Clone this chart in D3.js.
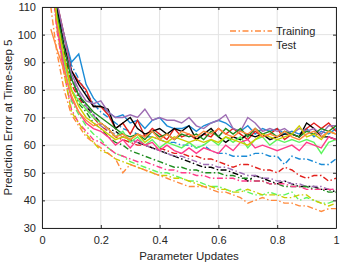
<!DOCTYPE html>
<html>
<head>
<meta charset="utf-8">
<script src="https://cdn.jsdelivr.net/npm/d3@7"></script>
<style>
  body { margin: 0; background: #fff; }
  text { font-family: "Liberation Sans", Arial, sans-serif; fill: #262626; }
</style>
</head>
<body>
<script>
// parameter update positions (shared by every series)
var xs = [0.03,0.05,0.075,0.1,0.125,0.15,0.175,0.2,0.225,0.25,0.275,0.3,0.325,0.35,0.375,0.4,0.425,0.45,0.475,0.5,
          0.525,0.55,0.575,0.6,0.625,0.65,0.675,0.7,0.725,0.75,0.775,0.8,0.825,0.85,0.875,0.9,0.925,0.95,0.975,1.0];

var blueTest    = [135,110,100,90,93,82,77,74,72,70,71,68,69,66,69,70,67,66,66,67,65,67,68,69,68,66,65,67,64,66,65,66,64,65,64,66,63,65,64,66];
var blueTrain   = [135,112,99,89,84,79,75,72,70,68,66,65,64,63,63,62,61,61,60,60,59,60,58,57,57,56,56,56,57,57,56,56,53,56,55,55,54,53,53,55];
var redTest     = [132,112,100,87,83,80,74,74,71,66,68,64,69,63,66,64,62,66,63,64,62,64,63,66,64,66,64,62,65,63,64,66,62,64,63,66,68,66,68,65];
var redTrain    = [130,108,94,82,77,73,70,67,65,63,62,61,60,60,59,59,58,57,57,56,56,55,55,54,53,52,53,53,52,51,51,50,52,51,49,48,49,49,47,48];
var blackTest   = [132,110,96,87,82,78,74,74,73,66,68,70,66,64,65,66,64,66,65,67,62,64,66,63,61,63,62,64,63,64,62,63,64,64,63,68,66,63,63,62];
var blackTrain  = [130,108,95,84,78,74,71,68,66,65,63,62,61,60,59,58,57,56,55,54,53,52,52,51,51,50,49,47,49,48,47,46,47,46,45,45,45,44,44,43];
var purpleTest  = [134,112,100,86,80,76,75,76,72,70,70,71,70,73,69,70,69,69,68,70,67,66,68,69,71,66,65,70,68,65,66,65,66,64,66,65,66,64,67,67];
var purpleTrain = [132,110,97,85,79,74,71,67,65,64,63,62,61,60,59,58,57,56,56,55,54,53,53,52,52,51,50,49,49,48,48,47,47,46,46,45,45,45,44,44];
var greenTest   = [130,108,95,84,78,75,72,70,68,66,64,63,64,62,65,63,64,62,64,63,64,62,65,63,66,64,66,63,66,64,65,63,65,64,63,65,64,66,65,67];
var greenTrain  = [128,106,92,80,75,72,68,66,63,61,60,58,57,56,55,54,53,52,52,51,51,50,50,50,49,49,48,48,47,47,46,46,45,45,45,45,44,44,43,43];
var limeTest    = [128,106,90,80,76,73,70,68,66,63,65,61,63,60,62,59,61,60,59,61,59,60,62,60,63,61,63,59,62,63,60,62,61,62,61,62,61,57,61,62];
var limeTrain   = [126,104,88,76,71,67,64,62,59,57,56,54,53,52,51,50,50,49,48,47,47,46,45,45,44,43,44,43,42,42,43,42,42,43,40,41,40,39,39,40];
var pinkTest    = [126,104,88,77,72,68,66,65,63,60,62,59,62,60,61,58,60,58,57,59,57,59,58,57,60,58,61,62,59,60,59,58,59,60,58,61,60,59,63,62];
var pinkTrain   = [124,102,86,73,68,65,62,61,59,57,56,55,54,54,53,52,51,51,50,50,49,49,48,48,48,48,47,47,47,47,46,46,46,45,45,44,44,44,44,44];
var yellowTest  = [127,106,92,80,74,70,68,66,64,62,63,62,64,61,63,62,61,63,62,61,62,61,62,61,63,62,61,60,62,64,63,62,63,64,67,63,64,62,65,64];
var yellowTrain = [125,103,86,72,68,64,61,58,57,55,54,53,52,51,50,49,49,48,48,47,46,45,45,44,44,43,43,44,43,42,42,42,41,41,42,42,40,39,38,39];
var orangeTest  = [102,95,87,78,72,69,67,68,66,63,64,62,64,63,65,62,64,62,65,64,63,65,64,66,64,63,65,64,66,63,64,63,65,63,62,64,65,63,65,64];
var orangeTrain = [110,94,80,71,67,63,61,59,57,55,50,53,52,51,50,49,48,47,46,45,45,45,44,43,43,42,41,39,40,41,40,40,39,39,38,38,37,36,37,37];

var xTicks = [0, 0.2, 0.4, 0.6, 0.8, 1];
var yTicks = [30, 40, 50, 60, 70, 80, 90, 100, 110];
var legendNames = ["Training", "Test"];

var runs = [
  {color: "#1a8bd6", test: blueTest,   train: blueTrain},
  {color: "#e3201c", test: redTest,    train: redTrain},
  {color: "#000000", test: blackTest,  train: blackTrain},
  {color: "#9d6cb3", test: purpleTest, train: purpleTrain},
  {color: "#1f8c1f", test: greenTest,  train: greenTrain},
  {color: "#5ef55e", test: limeTest,   train: limeTrain},
  {color: "#ff3b8a", test: pinkTest,   train: pinkTrain},
  {color: "#cccc00", test: yellowTest, train: yellowTrain},
  {color: "#ff8a3d", test: orangeTest, train: orangeTrain}
];

var W = 345, H = 263;
var m = {left: 42, right: 9, top: 7, bottom: 35};
var pw = W - m.left - m.right, ph = H - m.top - m.bottom;

var svg = d3.select("body").append("svg")
    .attr("width", W).attr("height", H);

var x = d3.scaleLinear().domain([0, 1]).range([0, pw]);
var y = d3.scaleLinear().domain([30, 110]).range([ph, 0]);

var g = svg.append("g").attr("transform", "translate(" + m.left + "," + m.top + ")");

svg.append("defs").append("clipPath").attr("id", "clip")
  .append("rect").attr("width", pw).attr("height", ph);

//grid
g.selectAll(".gx").data(xTicks).enter().append("line")
    .attr("x1", function(d){ return x(d); }).attr("x2", function(d){ return x(d); })
    .attr("y1", 0).attr("y2", ph)
    .attr("stroke", "#e3e3e3").attr("stroke-width", 1);
g.selectAll(".gy").data(yTicks).enter().append("line")
    .attr("y1", function(d){ return y(d); }).attr("y2", function(d){ return y(d); })
    .attr("x1", 0).attr("x2", pw)
    .attr("stroke", "#e3e3e3").attr("stroke-width", 1);

//lines
var line = d3.line()
    .x(function(d, i){ return x(xs[i]); })
    .y(function(d){ return y(d); });

var lines = g.append("g").attr("clip-path", "url(#clip)");
runs.forEach(function(r){
  lines.append("path").attr("d", line(r.train))
    .attr("fill", "none").attr("stroke", r.color).attr("stroke-width", 1.4)
    .attr("stroke-dasharray", "6,2.5,1.5,2.5");
});
runs.forEach(function(r){
  lines.append("path").attr("d", line(r.test))
    .attr("fill", "none").attr("stroke", r.color).attr("stroke-width", 1.4);
});

//axes (MATLAB style box, ticks inside)
var fmt = function(d){ return d3.format("~g")(d); };
var axB = g.append("g").attr("transform", "translate(0," + ph + ")")
    .call(d3.axisBottom(x).tickValues(xTicks).tickFormat(fmt).tickSizeInner(-3).tickSizeOuter(0).tickPadding(8));
var axT = g.append("g")
    .call(d3.axisTop(x).tickValues(xTicks).tickFormat("").tickSizeInner(-3).tickSizeOuter(0));
var axL = g.append("g")
    .call(d3.axisLeft(y).tickValues(yTicks).tickFormat(fmt).tickSizeInner(-3).tickSizeOuter(0).tickPadding(6));
var axR = g.append("g").attr("transform", "translate(" + pw + ",0)")
    .call(d3.axisRight(y).tickValues(yTicks).tickFormat("").tickSizeInner(-3).tickSizeOuter(0));
[axB, axT, axL, axR].forEach(function(a){
  a.selectAll("path, line").attr("stroke", "#262626");
  a.selectAll("text").style("font-size", "11px").style("font-family", "Liberation Sans, Arial, sans-serif").attr("fill", "#262626");
});

//axis labels
svg.append("text")
    .attr("x", m.left + pw / 2).attr("y", 260)
    .attr("text-anchor", "middle").style("font-size", "11.5px")
    .text("Parameter Updates");
svg.append("text")
    .attr("transform", "translate(12," + (m.top + ph / 2) + ") rotate(-90)")
    .attr("text-anchor", "middle").style("font-size", "11.5px")
    .text("Prediction Error at Time-step 5");

//legend
var leg = svg.append("g").attr("transform", "translate(230,31)");
legendNames.forEach(function(n, i){
  leg.append("line").attr("x1", 0).attr("x2", 42).attr("y1", i * 14).attr("y2", i * 14)
    .attr("stroke", "#ff8a3d").attr("stroke-width", 1.4)
    .attr("stroke-dasharray", i === 0 ? "6,2.5,1.5,2.5" : null);
  leg.append("text").attr("x", 46).attr("y", i * 14 + 4)
    .style("font-size", "11px").text(n);
});
</script>
</body>
</html>
